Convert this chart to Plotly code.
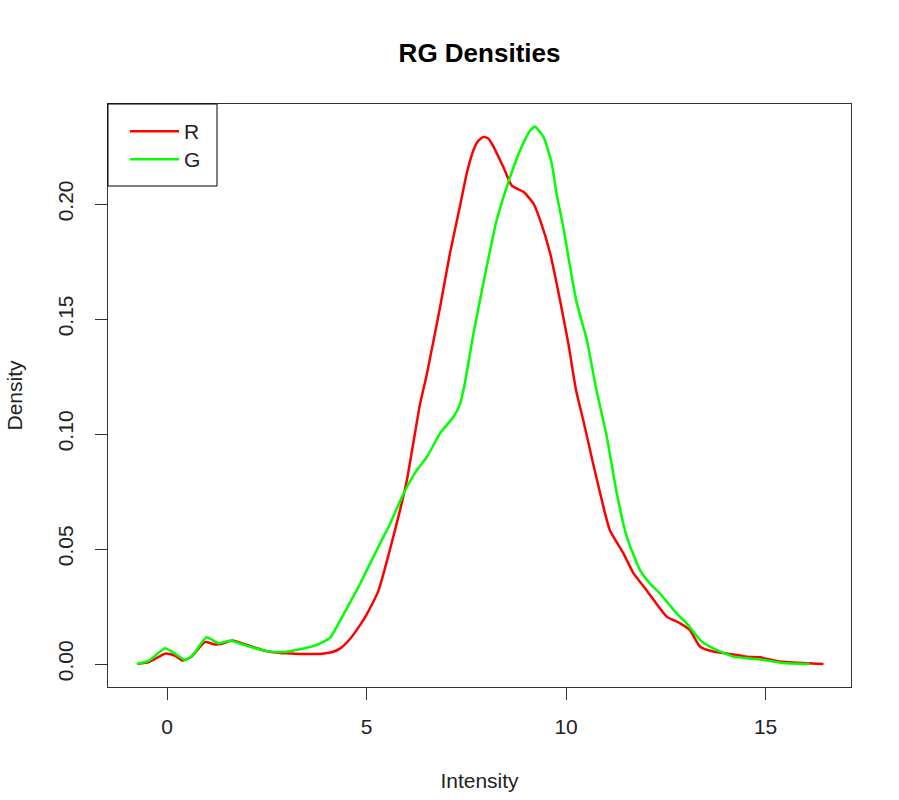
import plotly.graph_objects as go

# Red channel density
r_x = [-0.73, -0.45, -0.05, 0.2, 0.4, 0.6, 0.95, 1.2, 1.38, 1.63, 2.08, 2.45, 2.83, 3.08,
       3.33, 3.83, 4.16, 4.34, 4.59, 4.84, 5.0, 5.3, 5.59, 5.84, 6.0, 6.17, 6.34, 6.51,
       6.84, 7.09, 7.34, 7.51, 7.68, 7.8, 7.93, 8.05, 8.18, 8.43, 8.64, 8.93, 9.18, 9.35,
       9.6, 9.85, 10.06, 10.25, 10.43, 10.68, 10.94, 11.1, 11.44, 11.69, 12.02, 12.52,
       12.86, 13.1, 13.36, 13.69, 14.03, 14.53, 14.86, 15.28, 15.7, 16.45]
r_y = [0.0, 0.0008, 0.0045, 0.0035, 0.0015, 0.003, 0.0095, 0.0085, 0.0088, 0.0102, 0.0078,
       0.0058, 0.0048, 0.0046, 0.0044, 0.0044, 0.0053, 0.0068, 0.0110, 0.017, 0.0215, 0.032,
       0.050, 0.067, 0.079, 0.096, 0.113, 0.126, 0.155, 0.1786, 0.199, 0.2133, 0.2235,
       0.2275, 0.2292, 0.2285, 0.225, 0.216, 0.208, 0.2053, 0.2003, 0.193, 0.1786, 0.158,
       0.139, 0.119, 0.106, 0.087, 0.068, 0.058, 0.048, 0.0394, 0.032, 0.0206, 0.0177,
       0.0148, 0.0075, 0.0054, 0.0046, 0.0032, 0.0029, 0.0013, 0.0006, 0.0]

# Green channel density
g_x = [-0.76, -0.45, -0.05, 0.2, 0.45, 0.65, 0.99, 1.29, 1.58, 2.08, 2.5, 2.92, 3.33, 3.75,
       4.09, 4.34, 4.75, 4.84, 5.34, 5.59, 5.93, 6.26, 6.51, 6.84, 7.18, 7.34, 7.45, 7.68,
       8.01, 8.26, 8.6, 8.85, 9.1, 9.22, 9.43, 9.64, 9.76, 9.93, 10.1, 10.27, 10.52, 10.75,
       11.02, 11.27, 11.52, 11.85, 12.1, 12.35, 12.77, 13.02, 13.36, 13.69, 14.19, 14.86,
       15.53, 16.1]
g_y = [0.0, 0.0015, 0.0068, 0.0045, 0.0017, 0.004, 0.0116, 0.009, 0.0101, 0.0075, 0.0056,
       0.0052, 0.0064, 0.0083, 0.0115, 0.019, 0.032, 0.035, 0.0525, 0.061, 0.0742, 0.0843,
       0.090, 0.1003, 0.1075, 0.113, 0.121, 0.1438, 0.1727, 0.193, 0.2119, 0.2235, 0.232,
       0.2336, 0.2293, 0.2177, 0.2046, 0.190, 0.1727, 0.1568, 0.1409, 0.12, 0.0988, 0.0742,
       0.0553, 0.0409, 0.035, 0.0307, 0.022, 0.0177, 0.0104, 0.0068, 0.0032, 0.002, 0.0003,
       0.0]

x_ticks = [0, 5, 10, 15]
y_ticks = [0.00, 0.05, 0.10, 0.15, 0.20]
y_tick_text = ["0.00", "0.05", "0.10", "0.15", "0.20"]

FONT = "Liberation Sans, Arial, sans-serif"

fig = go.Figure()
fig.add_trace(go.Scatter(x=r_x, y=r_y, mode="lines", name="R", legend="legend",
                         line=dict(color="#FF0000", width=2.5, shape="spline", smoothing=0.5)))
fig.add_trace(go.Scatter(x=g_x, y=g_y, mode="lines", name="G", legend="legend2",
                         line=dict(color="#00FF00", width=2.5, shape="spline", smoothing=0.5)))

leg_common = dict(xanchor="left", yanchor="top", bgcolor="rgba(0,0,0,0)", borderwidth=0,
                  itemwidth=49, font=dict(size=21, color="#222222"))

fig.update_layout(
    width=899, height=800,
    margin=dict(l=108, r=48, t=104, b=113),
    paper_bgcolor="white", plot_bgcolor="white",
    font=dict(family=FONT, color="#222222", size=21),
    title=dict(text="<b>RG Densities</b>", x=0.5334, xanchor="center",
               y=1 - 53 / 800, yanchor="middle", font=dict(size=26, color="black")),
    showlegend=True,
    legend=dict(x=(125 - 108) / 743, y=0.988, **leg_common),
    legend2=dict(x=(125 - 108) / 743, y=1 - (139 - 104) / 583, **leg_common),
    shapes=[dict(type="rect", xref="paper", yref="paper",
                 x0=0, x1=(217 - 108) / 743, y0=1 - (186 - 104) / 583, y1=1,
                 line=dict(color="black", width=1), fillcolor="rgba(0,0,0,0)")],
)

fig.update_xaxes(range=[-1.48, 17.14], tickvals=x_ticks, ticks="outside", ticklen=12,
                 tickcolor="#333333", showgrid=False, zeroline=False, automargin=False,
                 showline=True, mirror=True, linecolor="#333333", linewidth=1,
                 ticklabelstandoff=9, tickfont=dict(size=21),
                 title=dict(text="Intensity", font=dict(size=21), standoff=36))
fig.update_yaxes(range=[-0.0100, 0.2435], tickvals=y_ticks, ticktext=y_tick_text,
                 ticks="outside", ticklen=12, tickcolor="#333333", tickangle=-90,
                 showgrid=False, zeroline=False, automargin=False,
                 showline=True, mirror=True, linecolor="#333333", linewidth=1,
                 ticklabelstandoff=14, tickfont=dict(size=21),
                 title=dict(text="Density", font=dict(size=21), standoff=25))

fig.write_html("out.html")
